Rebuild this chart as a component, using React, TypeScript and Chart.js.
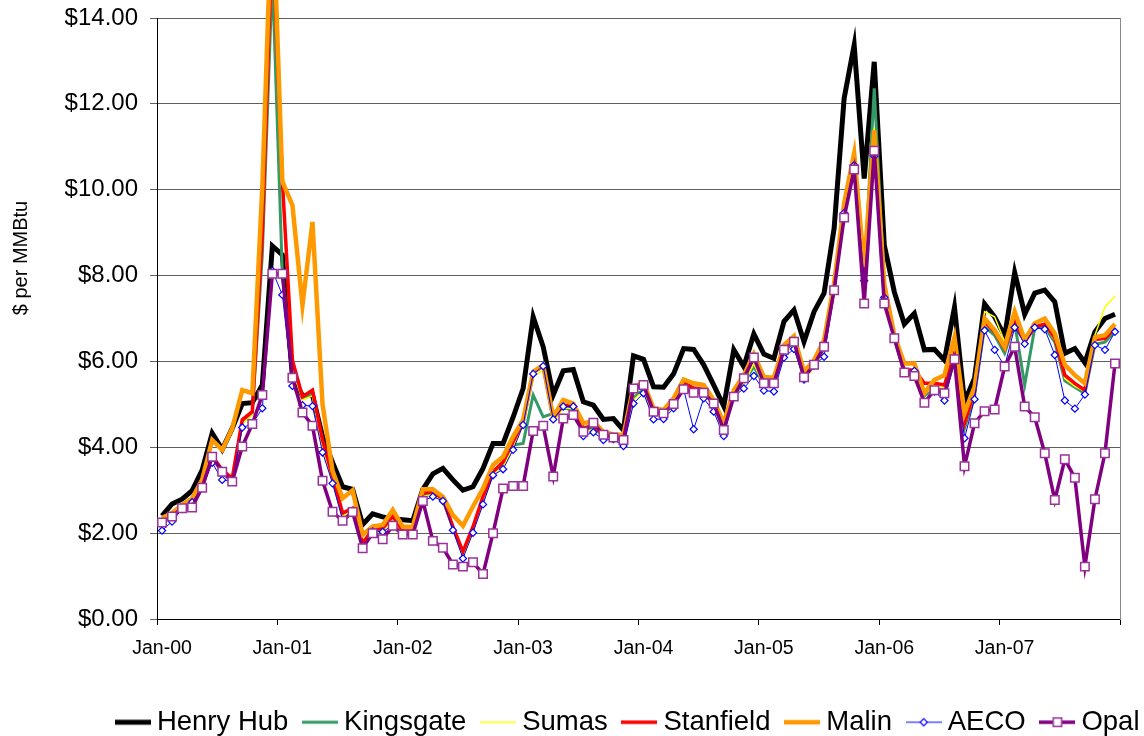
import React, { useEffect, useRef } from 'react';
import { Chart, registerables } from 'chart.js';

Chart.register(...registerables);

// ---------- data ----------
const MONTHS = ['Jan', 'Feb', 'Mar', 'Apr', 'May', 'Jun', 'Jul', 'Aug', 'Sep', 'Oct', 'Nov', 'Dec'];
const YEARS = ['00', '01', '02', '03', '04', '05', '06', '07'];
const CATEGORIES = YEARS.flatMap((y) => MONTHS.map((m) => `${m}-${y}`));

const Y_TICKS = [0, 2, 4, 6, 8, 10, 12, 14];
const Y_TITLE = '$ per MMBtu';

const HENRY_HUB = [
  2.40, 2.68, 2.79, 2.99, 3.47, 4.33, 3.95, 4.44, 5.02, 5.04, 5.45, 8.69,
  8.48, 5.65, 5.20, 5.22, 4.25, 3.65, 3.08, 3.02, 2.20, 2.45, 2.38, 2.33,
  2.31, 2.29, 3.02, 3.38, 3.51, 3.24, 3.00, 3.08, 3.51, 4.09, 4.09, 4.70,
  5.37, 7.04, 6.34, 5.22, 5.78, 5.81, 5.06, 4.98, 4.65, 4.67, 4.40, 6.13,
  6.05, 5.41, 5.40, 5.71, 6.30, 6.28, 5.92, 5.45, 4.96, 6.27, 5.88, 6.64,
  6.17, 6.07, 6.93, 7.20, 6.46, 7.16, 7.59, 9.10, 12.13, 13.37, 10.26, 12.98,
  8.71, 7.62, 6.87, 7.12, 6.27, 6.28, 6.03, 7.26, 5.06, 5.61, 7.34, 7.04,
  6.59, 8.07, 7.10, 7.59, 7.66, 7.39, 6.19, 6.30, 5.97, 6.69, 7.00, 7.10,
];

const KINGSGATE = [
  2.27, 2.42, 2.58, 2.75, 3.08, 3.75, 3.42, 3.25, 4.58, 4.78, 8.50, 15.00,
  8.00, 5.90, 5.15, 5.25, 4.08, 3.25, 2.42, 2.55, 1.72, 2.05, 2.08, 2.35,
  2.02, 2.02, 2.88, 2.92, 2.78, 2.12, 1.50, 2.10, 2.78, 3.40, 3.60, 4.05,
  4.09, 5.22, 4.71, 4.79, 4.91, 4.88, 4.40, 4.45, 4.25, 4.22, 4.15, 5.15,
  5.35, 4.78, 4.75, 5.00, 5.42, 5.32, 5.30, 5.00, 4.40, 5.20, 5.50, 5.88,
  5.45, 5.45, 6.22, 6.42, 5.60, 5.90, 6.30, 7.70, 9.50, 10.60, 7.90, 12.36,
  7.80, 6.55, 5.75, 5.75, 5.20, 5.38, 5.35, 6.10, 4.44, 5.20, 6.81, 6.61,
  6.19, 6.90, 5.45, 6.78, 6.80, 6.45, 5.55, 5.40, 5.25, 6.40, 6.45, 6.70,
];

const SUMAS = [
  2.25, 2.40, 2.58, 2.74, 3.08, 3.72, 3.38, 3.24, 4.55, 4.75, 9.00, 15.50,
  10.00, 5.80, 5.10, 5.20, 4.00, 3.20, 2.40, 2.52, 1.70, 2.05, 2.05, 2.30,
  2.00, 2.00, 2.85, 2.90, 2.75, 2.10, 1.45, 2.05, 2.75, 3.38, 3.55, 4.00,
  4.55, 5.65, 5.80, 4.57, 4.92, 4.90, 4.35, 4.42, 4.22, 4.20, 4.10, 5.10,
  5.32, 4.75, 4.72, 4.98, 5.40, 5.25, 5.28, 4.95, 4.35, 5.18, 5.48, 5.95,
  5.42, 5.42, 6.20, 6.40, 5.55, 5.88, 6.25, 7.72, 9.55, 10.70, 8.00, 11.43,
  7.60, 6.55, 5.78, 5.78, 5.25, 5.40, 5.38, 6.12, 4.50, 5.25, 7.16, 7.04,
  6.46, 6.95, 6.40, 6.82, 6.85, 6.50, 5.60, 5.42, 5.30, 6.61, 7.27, 7.52,
];

const STANFIELD = [
  2.31, 2.47, 2.58, 2.78, 3.09, 3.80, 3.47, 3.28, 4.64, 4.83, 9.00, 16.00,
  10.20, 6.03, 5.18, 5.33, 4.17, 3.32, 2.47, 2.58, 1.77, 2.08, 2.11, 2.40,
  2.05, 2.05, 2.93, 2.97, 2.80, 2.15, 1.57, 2.15, 2.85, 3.43, 3.66, 4.13,
  4.60, 5.74, 5.89, 4.68, 4.98, 4.95, 4.45, 4.50, 4.30, 4.25, 4.20, 5.37,
  5.45, 4.85, 4.82, 5.05, 5.50, 5.38, 5.35, 5.05, 4.45, 5.25, 5.62, 6.10,
  5.55, 5.52, 6.30, 6.50, 5.65, 5.95, 6.40, 7.72, 9.55, 10.65, 7.90, 11.10,
  7.55, 6.56, 5.80, 5.80, 5.49, 5.49, 5.45, 6.19, 4.56, 5.30, 6.93, 6.69,
  6.30, 6.93, 6.45, 6.80, 6.87, 6.55, 5.68, 5.49, 5.33, 6.51, 6.54, 6.77,
];

const MALIN = [
  2.35, 2.47, 2.66, 2.81, 3.24, 4.17, 3.94, 4.44, 5.33, 5.26, 10.07, 17.00,
  10.19, 9.64, 7.31, 9.25, 5.00, 3.45, 2.81, 3.00, 1.96, 2.16, 2.19, 2.54,
  2.15, 2.15, 3.02, 3.02, 2.85, 2.42, 2.17, 2.62, 3.04, 3.59, 3.78, 4.25,
  4.64, 5.76, 5.91, 4.71, 5.10, 5.02, 4.56, 4.60, 4.36, 4.30, 4.29, 5.41,
  5.50, 4.91, 4.87, 5.14, 5.58, 5.49, 5.45, 5.10, 4.56, 5.33, 5.68, 6.17,
  5.64, 5.62, 6.38, 6.59, 5.76, 6.03, 6.50, 7.82, 9.68, 10.85, 8.20, 11.39,
  7.80, 6.61, 5.95, 5.95, 5.26, 5.57, 5.68, 6.56, 4.79, 5.41, 7.00, 6.73,
  6.34, 7.16, 6.50, 6.89, 7.00, 6.65, 5.92, 5.68, 5.49, 6.56, 6.61, 6.87,
];

const AECO = [
  2.06, 2.27, 2.56, 2.72, 3.06, 3.64, 3.24, 3.20, 4.46, 4.54, 4.91, 8.11,
  7.55, 5.43, 4.98, 4.96, 3.88, 3.16, 2.31, 2.49, 1.65, 2.04, 2.03, 2.19,
  1.97, 1.97, 2.75, 2.85, 2.75, 2.07, 1.41, 2.01, 2.67, 3.35, 3.49, 3.94,
  4.52, 5.71, 5.89, 4.65, 4.95, 4.95, 4.26, 4.35, 4.17, 4.19, 4.03, 5.02,
  5.26, 4.65, 4.66, 4.91, 5.35, 4.42, 5.14, 4.83, 4.26, 5.18, 5.37, 5.66,
  5.32, 5.30, 6.09, 6.29, 5.58, 5.90, 6.11, 7.65, 9.46, 10.57, 7.88, 10.78,
  7.49, 6.54, 5.74, 5.78, 5.04, 5.30, 5.09, 5.99, 4.21, 5.12, 6.72, 6.27,
  5.89, 6.79, 6.41, 6.79, 6.75, 6.15, 5.09, 4.90, 5.23, 6.38, 6.27, 6.69,
];

const OPAL = [
  2.25, 2.39, 2.58, 2.60, 3.06, 3.78, 3.43, 3.20, 4.02, 4.54, 5.22, 8.04,
  8.04, 5.62, 4.81, 4.50, 3.22, 2.50, 2.29, 2.49, 1.65, 2.00, 1.86, 2.17,
  1.97, 1.97, 2.75, 1.82, 1.66, 1.27, 1.22, 1.32, 1.05, 2.00, 3.04, 3.10,
  3.10, 4.38, 4.50, 3.32, 4.67, 4.75, 4.36, 4.57, 4.29, 4.23, 4.17, 5.37,
  5.45, 4.83, 4.79, 5.01, 5.35, 5.27, 5.27, 5.02, 4.40, 5.18, 5.61, 6.09,
  5.49, 5.49, 6.27, 6.46, 5.63, 5.92, 6.34, 7.66, 9.35, 10.47, 7.35, 10.91,
  7.35, 6.54, 5.74, 5.66, 5.04, 5.33, 5.26, 6.05, 3.56, 4.56, 4.84, 4.88,
  5.88, 6.34, 4.95, 4.70, 3.86, 2.77, 3.72, 3.29, 1.22, 2.79, 3.86, 5.95,
];

const SERIES_NAMES = ['Henry Hub', 'Kingsgate', 'Sumas', 'Stanfield', 'Malin', 'AECO', 'Opal'];
const SERIES_VALUES = [HENRY_HUB, KINGSGATE, SUMAS, STANFIELD, MALIN, AECO, OPAL];

// ---------- styles ----------
type Marker = 'none' | 'diamond' | 'square';
const STYLES: { color: string; width: number; marker: Marker; markerColor: string; radius: number }[] = [
  { color: '#000000', width: 5, marker: 'none', markerColor: '#000000', radius: 0 },
  { color: '#339966', width: 3, marker: 'none', markerColor: '#339966', radius: 0 },
  { color: '#FFFF00', width: 1.5, marker: 'none', markerColor: '#FFFF00', radius: 0 },
  { color: '#FF0000', width: 3.5, marker: 'none', markerColor: '#FF0000', radius: 0 },
  { color: '#FF9900', width: 4.5, marker: 'none', markerColor: '#FF9900', radius: 0 },
  { color: '#0000FF', width: 1, marker: 'diamond', markerColor: '#0000FF', radius: 3.6 },
  { color: '#800080', width: 3.5, marker: 'square', markerColor: '#993399', radius: 6 },
];

const W = 1161;
const H = 746;
const PLOT_LEFT = 157;
const PLOT_RIGHT = 1120;
const PLOT_TOP = 18;
const PLOT_BOTTOM = 619;
const FONT = '"Liberation Sans", Arial, Helvetica, sans-serif';

function makeLegendIcon(s: (typeof STYLES)[number]): HTMLCanvasElement {
  const c = document.createElement('canvas');
  c.width = 36;
  c.height = 14;
  const g = c.getContext('2d')!;
  g.strokeStyle = s.color;
  g.lineWidth = s.width;
  g.beginPath();
  g.moveTo(0, 7);
  g.lineTo(36, 7);
  g.stroke();
  if (s.marker === 'diamond') {
    const r = s.radius;
    g.beginPath();
    g.moveTo(18, 7 - r);
    g.lineTo(18 + r, 7);
    g.lineTo(18, 7 + r);
    g.lineTo(18 - r, 7);
    g.closePath();
    g.fillStyle = '#ffffff';
    g.fill();
    g.lineWidth = 1.2;
    g.strokeStyle = s.markerColor;
    g.stroke();
  } else if (s.marker === 'square') {
    const h = s.radius * Math.SQRT1_2;
    g.fillStyle = '#ffffff';
    g.fillRect(18 - h, 7 - h, 2 * h, 2 * h);
    g.lineWidth = 1.5;
    g.strokeStyle = s.markerColor;
    g.strokeRect(18 - h, 7 - h, 2 * h, 2 * h);
  }
  return c;
}

const yTitlePlugin = {
  id: 'yTitleText',
  afterDraw(chart: any) {
    const ctx = chart.ctx as CanvasRenderingContext2D;
    ctx.save();
    ctx.translate(21, 258);
    ctx.rotate(-Math.PI / 2);
    ctx.font = `20px ${FONT}`;
    ctx.fillStyle = '#000000';
    ctx.textAlign = 'center';
    ctx.textBaseline = 'middle';
    ctx.fillText(Y_TITLE, 0, 0);
    ctx.restore();
  },
};

export default function App() {
  const canvasRef = useRef<HTMLCanvasElement | null>(null);

  useEffect(() => {
    if (!canvasRef.current) return;
    Chart.defaults.font.family = FONT;
    Chart.defaults.color = '#000000';

    const icons = STYLES.map(makeLegendIcon);

    const datasets = SERIES_NAMES.map((name, i) => {
      const s = STYLES[i];
      return {
        label: name,
        data: SERIES_VALUES[i],
        borderColor: s.color,
        backgroundColor: s.color,
        borderWidth: s.width,
        pointRadius: s.marker === 'none' ? 0 : s.radius,
        pointStyle: s.marker === 'diamond' ? 'rectRot' : s.marker === 'square' ? 'rect' : 'circle',
        pointBorderColor: s.markerColor,
        pointBackgroundColor: '#ffffff',
        pointBorderWidth: s.marker === 'square' ? 1.5 : 1.2,
        fill: false,
        tension: 0,
        clip: false as any,
        order: SERIES_NAMES.length - i,
      };
    });

    const chart = new Chart(canvasRef.current, {
      type: 'line',
      data: { labels: CATEGORIES, datasets: datasets as any },
      plugins: [yTitlePlugin],
      options: {
        animation: false,
        responsive: false,
        devicePixelRatio: 1,
        events: [],
        layout: { padding: { top: PLOT_TOP, left: 0, right: 0, bottom: 0 } },
        plugins: {
          tooltip: { enabled: false },
          legend: {
            position: 'bottom',
            align: 'end',
            labels: {
              usePointStyle: true,
              pointStyleWidth: 20.5,
              padding: 21.5,
              color: '#000000',
              font: { size: 27.5, family: FONT },
              generateLabels: () =>
                SERIES_NAMES.map((name, i) => ({
                  text: name,
                  pointStyle: icons[i] as any,
                  datasetIndex: i,
                  hidden: false,
                  fillStyle: STYLES[i].color,
                  strokeStyle: STYLES[i].color,
                  lineWidth: 0,
                  fontColor: '#000000',
                })),
            },
          },
        },
        scales: {
          x: {
            type: 'category',
            offset: true,
            grid: {
              display: true,
              drawOnChartArea: false,
              offset: true,
              tickLength: 6,
              lineWidth: 1,
              color: (c: any) =>
                c.index === undefined || c.index % 12 === 0 ? '#000000' : 'rgba(0,0,0,0)',
            },
            border: { display: true, color: '#000000', width: 1 },
            ticks: {
              autoSkip: false,
              maxRotation: 0,
              minRotation: 0,
              padding: 12,
              color: '#000000',
              font: { size: 19.5, family: FONT },
              callback: (_v: any, i: number) => (i % 12 === 0 ? CATEGORIES[i] : ''),
            },
            afterFit: (s: any) => {
              const lg = s.chart.legend;
              const lh = lg && lg.height ? lg.height : 59;
              s.height = H - lh - PLOT_BOTTOM;
              s.paddingLeft = 0;
              s.paddingRight = 0;
            },
          },
          y: {
            position: 'left',
            min: Y_TICKS[0],
            max: Y_TICKS[Y_TICKS.length - 1],
            afterBuildTicks: (s: any) => {
              s.ticks = Y_TICKS.map((v) => ({ value: v }));
            },
            grid: { color: '#5f5f5f', lineWidth: 1, tickLength: 7 },
            border: { display: true, color: '#000000', width: 1 },
            ticks: {
              padding: 12,
              color: '#000000',
              font: { size: 24, family: FONT },
              callback: (v: any) => '$' + Number(v).toFixed(2),
            },
            afterFit: (s: any) => {
              s.width = PLOT_LEFT;
              s.paddingTop = 0;
              s.paddingBottom = 0;
            },
          },
          y2: {
            position: 'right',
            min: Y_TICKS[0],
            max: Y_TICKS[Y_TICKS.length - 1],
            grid: { display: false, drawOnChartArea: false },
            border: { display: true, color: '#8a8a8a', width: 1 },
            ticks: { display: false },
            afterFit: (s: any) => {
              s.width = W - PLOT_RIGHT;
              s.paddingTop = 0;
              s.paddingBottom = 0;
            },
          },
        },
      },
    });

    return () => chart.destroy();
  }, []);

  return (
    <div style={{ position: 'fixed', left: 0, top: 0, width: W, height: H, background: '#ffffff' }}>
      <canvas ref={canvasRef} width={W} height={H} style={{ width: W, height: H, display: 'block' }} />
    </div>
  );
}
